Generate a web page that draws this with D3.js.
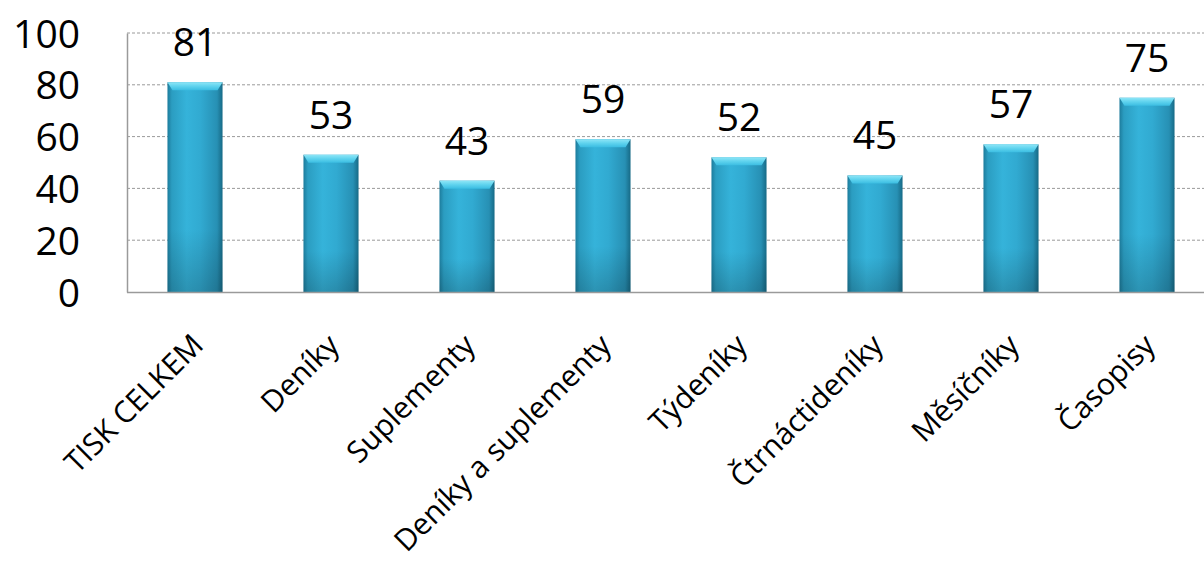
<!DOCTYPE html>
<html><head><meta charset="utf-8">
<script src="https://cdn.jsdelivr.net/npm/d3@7"></script>
<style>html,body{margin:0;padding:0;background:#fff;}svg{display:block;}</style>
</head><body>
<svg id="chart" width="1204" height="561"></svg>
<script>
const categories = ["TISK CELKEM","Deníky","Suplementy","Deníky a suplementy","Týdeníky","Čtrnáctideníky","Měsíčníky","Časopisy"];
const values = [81,53,43,59,52,45,57,75];
const yTicks = [0,20,40,60,80,100];

const svg = d3.select("#chart");
const margin = {left:127, right:-11};
const W = 1204, H = 561;
const x = d3.scaleBand().domain(categories).range([margin.left, W - margin.right]).padding(0);
const y = d3.scaleLinear().domain([0,100]).range([292, 33]);
const font = "'Open Sans', Calibri, sans-serif";

const defs = svg.append("defs");
const g1 = defs.append("linearGradient").attr("id","barH").attr("x1","0").attr("x2","1").attr("y1","0").attr("y2","0");
[["0%","#1d7c9c"],["8%","#2b9dc1"],["35%","#35b3da"],["60%","#31aad1"],["90%","#2790b4"],["100%","#176a86"]].forEach(s=>g1.append("stop").attr("offset",s[0]).attr("stop-color",s[1]));
const g2 = defs.append("linearGradient").attr("id","barV").attr("x1","0").attr("x2","0").attr("y1","0").attr("y2","1");
[["0%","#ffffff",0.0],["70%","#000000",0.0],["100%","#000000",0.18]].forEach(s=>g2.append("stop").attr("offset",s[0]).attr("stop-color",s[1]).attr("stop-opacity",s[2]));
const g3 = defs.append("linearGradient").attr("id","cap").attr("x1","0").attr("x2","0").attr("y1","0").attr("y2","1");
[["0%","#8fe6f7"],["50%","#5fd3ee"],["100%","#3bbde2"]].forEach(s=>g3.append("stop").attr("offset",s[0]).attr("stop-color",s[1]));

// gridlines
svg.append("g").selectAll("line").data(yTicks.filter(d=>d>0)).join("line")
  .attr("x1", margin.left).attr("x2", W).attr("y1", d=>y(d)).attr("y2", d=>y(d))
  .attr("stroke","#9a9a9a").attr("stroke-width",1).attr("stroke-dasharray","3,2");

// y axis
const yAxis = d3.axisLeft(y).tickValues(yTicks).tickSize(0).tickPadding(0);
const ya = svg.append("g").attr("transform",`translate(${margin.left},0)`).call(yAxis);
ya.select(".domain").attr("stroke","#9a9a9a").attr("stroke-width",1.5);
ya.selectAll("text").attr("x",-47).attr("font-family",font).attr("font-size",39).attr("fill","#000").attr("text-anchor","end").attr("dy","0.36em");

// bars
const bw = x.bandwidth()*0.405;
const bars = svg.append("g").selectAll("g").data(categories).join("g");
bars.append("rect").attr("x", d=>x(d)+x.bandwidth()/2-bw/2).attr("width",bw)
  .attr("y",(d,i)=>y(values[i])).attr("height",(d,i)=>y(0)-y(values[i])).attr("fill","url(#barH)");
bars.append("rect").attr("x", d=>x(d)+x.bandwidth()/2-bw/2).attr("width",bw)
  .attr("y",(d,i)=>y(values[i])).attr("height",(d,i)=>y(0)-y(values[i])).attr("fill","url(#barV)");
bars.append("path").attr("d",(d,i)=>{
  const x0 = x(d)+x.bandwidth()/2-bw/2, x1 = x0+bw, t = y(values[i]);
  return `M${x0},${t}L${x1},${t}L${x1-5},${t+8}L${x0+5},${t+8}Z`;
}).attr("fill","url(#cap)");

// x axis line
svg.append("line").attr("x1",margin.left).attr("x2",W).attr("y1",y(0)+0.5).attr("y2",y(0)+0.5).attr("stroke","#9a9a9a").attr("stroke-width",1.5);

// value labels
svg.append("g").selectAll("text").data(categories).join("text")
  .attr("x", d=>x(d)+x.bandwidth()/2).attr("y",(d,i)=>y(values[i])-26)
  .attr("text-anchor","middle").attr("font-family",font).attr("font-size",39).attr("fill","#000")
  .text((d,i)=>values[i]);

// x labels
const xAxis = d3.axisBottom(x).tickSize(0).tickPadding(0);
const xa = svg.append("g").attr("transform",`translate(0,${y(0)})`).call(xAxis);
xa.select(".domain").remove();
xa.selectAll("text").attr("font-family",font).attr("font-size",30).attr("fill","#000")
  .attr("text-anchor","end").attr("dy",0).attr("y",0)
  .attr("transform","translate(10,55) rotate(-45)");
</script>
</body></html>
